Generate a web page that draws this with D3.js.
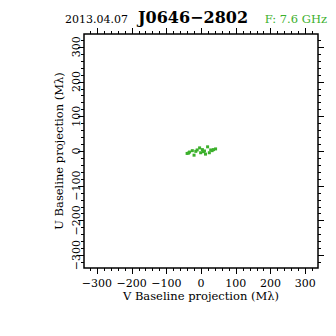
<!DOCTYPE html>
<html><head><meta charset="utf-8">
<script src="https://cdn.jsdelivr.net/npm/d3@7"></script>
<style>body{margin:0;background:#fff}svg{display:block}</style>
</head><body>
<script>
const dateLabel = "2013.04.07";
const sourceName = "J0646\u22122802";
const freqLabel = "F: 7.6 GHz";
const xTitle = "V Baseline projection (M\u03bb)";
const yTitle = "U Baseline projection (M\u03bb)";
const majorTicks = [-300, -200, -100, 0, 100, 200, 300];
const vValues = [-40, -36, -25, -20, -11, -4, -1, 7, 13, 19, 24, 32, 42, -33, 4, 28, -15, 10, 36];
const uValues = [-7, -6, 1, -12, 3, 9, -5, -2, -9, 12, -5, 1, 6, -3, 4, 3, -1, 0, 4];

const W = 336, H = 336;
const L = 84, R = 318, T = 34, B = 268;
const svg = d3.select("body").append("svg").attr("width", W).attr("height", H);
const x = d3.scaleLinear().domain([-337, 337]).range([L, R]);
const y = d3.scaleLinear().domain([-337, 337]).range([B, T]);
const minor = d3.range(-320, 321, 20).filter(d => d % 100 !== 0);
const font = "DejaVu Serif";

function ticks(axis, vals, len) {
  const g = svg.append("g").attr("stroke", "#000").attr("stroke-width", 1);
  vals.forEach(v => {
    if (axis === "x") {
      const px = Math.round(x(v)) + 0.5;
      g.append("line").attr("x1", px).attr("x2", px).attr("y1", B).attr("y2", B + len);
      g.append("line").attr("x1", px).attr("x2", px).attr("y1", T).attr("y2", T - len);
    } else {
      const py = Math.round(y(v)) + 0.5;
      g.append("line").attr("y1", py).attr("y2", py).attr("x1", L).attr("x2", L - len);
      g.append("line").attr("y1", py).attr("y2", py).attr("x1", R).attr("x2", R + len);
    }
  });
}
ticks("x", majorTicks, 6); ticks("x", minor, 3);
ticks("y", majorTicks, 6); ticks("y", minor, 3);

svg.append("rect").attr("x", L).attr("y", T).attr("width", R - L).attr("height", B - T)
  .attr("fill", "none").attr("stroke", "#000").attr("stroke-width", 1.5);

const fmt = d => d < 0 ? "\u2212" + Math.abs(d) : String(d);
svg.append("g").selectAll("text").data(majorTicks).join("text")
  .attr("x", d => x(d)).attr("y", 287).attr("text-anchor", "middle")
  .attr("font-family", font).attr("font-size", 11).text(fmt);
svg.append("g").selectAll("text").data(majorTicks).join("text")
  .attr("transform", d => `translate(80,${y(d)}) rotate(-90)`).attr("text-anchor", "middle")
  .attr("font-family", font).attr("font-size", 11).text(fmt);

svg.append("text").attr("x", (L + R) / 2).attr("y", 300).attr("text-anchor", "middle")
  .attr("font-family", font).attr("font-size", 11.5).text(xTitle);
svg.append("text").attr("transform", `translate(63,${(T + B) / 2}) rotate(-90)`).attr("text-anchor", "middle")
  .attr("font-family", font).attr("font-size", 11.5).text(yTitle);

svg.append("text").attr("x", 65).attr("y", 23).attr("font-family", font).attr("font-size", 11).text(dateLabel);
svg.append("text").attr("x", 138).attr("y", 23).attr("font-family", font).attr("font-weight", "bold")
  .attr("font-size", 16).text(sourceName);
svg.append("text").attr("x", 327).attr("y", 23).attr("text-anchor", "end").attr("font-family", font)
  .attr("font-size", 11.5).attr("fill", "#3cb02c").text(freqLabel);

const pts = vValues.map((v, i) => [v, uValues[i]]);
svg.append("g").attr("fill", "#3cb02c").selectAll("rect").data(pts).join("rect")
  .attr("x", d => x(d[0]) - 1.5).attr("y", d => y(d[1]) - 1.5).attr("width", 3).attr("height", 3);
</script>
</body></html>
